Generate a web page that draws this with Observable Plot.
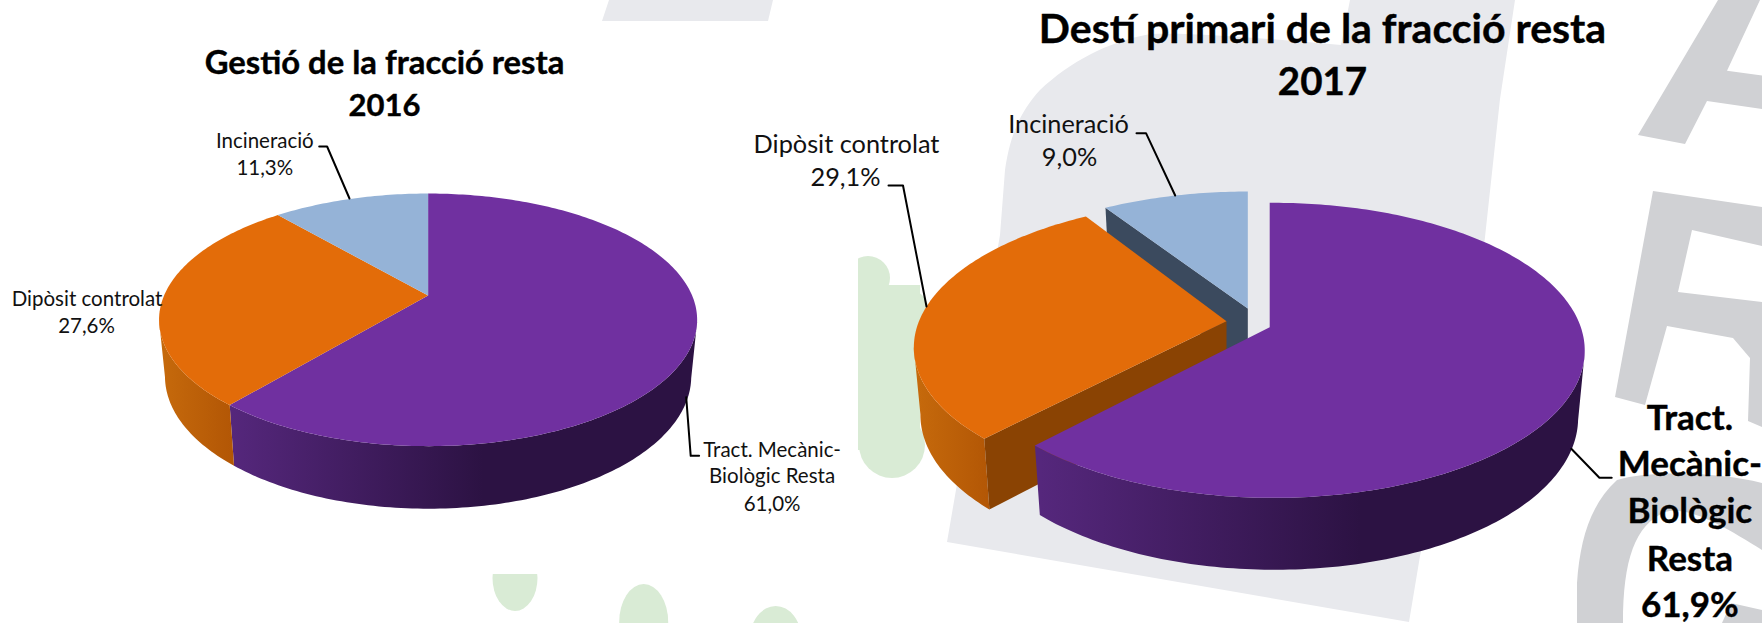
<!DOCTYPE html>
<html>
<head>
<meta charset="utf-8">
<script src="https://cdn.jsdelivr.net/npm/d3@7"></script>
<script src="https://cdn.jsdelivr.net/npm/@observablehq/plot@0.6"></script>
<style>
html,body{margin:0;padding:0;background:#fff;width:1762px;height:623px;overflow:hidden}
svg{display:block}
</style>
</head>
<body>
<script>
// ---------- data ----------
const categories = ["Tract. Mecànic-Biològic Resta", "Dipòsit controlat", "Incineració"];
const values2016 = [61.0, 27.6, 11.3];
const values2017 = [61.9, 29.1, 9.0];
const sliceColors = ["#7030a0", "#e36c09", "#95b3d7"];
const innerWallColors = [null, "#8a4303", "#3b4a5e"];
const titles2016 = ["Gestió de la fracció resta", "2016"];
const titles2017 = ["Destí primari de la fracció resta", "2017"];

// ---------- perspective of each pie (Excel 3-D look) ----------
const pie2016 = [0, 1, 2].map(() => ({cx: 427.6, cy: 295, S: 264, B: 121.6, k: 0.1927, f: 0.978, a: 55.4, fy: 0.96}));
const pie2017 = [
  {cx: 1269.2, cy: 326.7, S: 308, B: 143.9, k: 0.1566, m: 0.01, f: 0.979, a: 66, fy: 0.963},
  {cx: 1226, cy: 320.7, S: 307.5, D: -5.7, B: 141.1, k: 0.163, f: 0.979, a: 66.1, fy: 0.963},
  {cx: 1247.3, cy: 308, S: 297.4, B: 133.6, k: 0.142, f: 0.979, a: 60, fy: 0.963}
];
// shaded side walls: horizontal gradients
const gradients = [
  {id: "p16", x1: 230, x2: 482, from: "#55277c", to: "#2c1243"},
  {id: "o16", x1: 159, x2: 234, from: "#c66a0c", to: "#b25605"},
  {id: "p17", x1: 1040, x2: 1360, from: "#55277c", to: "#2c1243"},
  {id: "o17", x1: 914, x2: 991, from: "#c66a0c", to: "#b25605"}
];

function at(m, X, Z, level) {
  const d = 1 - m.k * Z - (m.m || 0) * X;
  const f = level ? m.f : 1, fy = level ? m.fy : 1, off = level ? m.a : 0;
  return {x: m.cx + f * (m.S * X + (m.D || 0) * Z) / d, y: m.cy + (off + fy * m.B * Z) / d};
}
function pt(m, a, level) {
  return at(m, Math.sin(a), -Math.cos(a), level);
}

const layers = [];
let uid = 0;
function poly(points, fill) {
  const id = uid++;
  for (const p of points) layers.push({id, x: p.x, y: p.y, fill});
}
function arcAngles(a0, a1) {
  const n = Math.max(2, Math.ceil((a1 - a0) / (Math.PI / 180)));
  return d3.range(n + 1).map(i => a0 + (a1 - a0) * i / n);
}
function sides(arc, m, gradientId) {
  // only the front-facing part of the rim, between the two silhouette points
  const as = arcAngles(arc.startAngle, arc.endAngle).filter(a => -Math.cos(a) > m.k);
  poly([...as.map(a => pt(m, a, 0)), ...as.slice().reverse().map(a => pt(m, a, 1))], `url(#${gradientId})`);
}
function topFace(arc, m, i) {
  poly([at(m, 0, 0, 0), ...arcAngles(arc.startAngle, arc.endAngle).map(a => pt(m, a, 0))], sliceColors[i]);
}
function innerWall(arc, m, i, angle) {
  poly([at(m, 0, 0, 0), pt(m, angle, 0), pt(m, angle, 1), at(m, 0, 0, 1)], innerWallColors[i]);
}

const pieGen = d3.pie().sort(null).value(d => d);
const arcs2016 = pieGen(values2016);
const arcs2017 = pieGen(values2017);

// 2016: joined pie
sides(arcs2016[0], pie2016[0], "p16");
sides(arcs2016[1], pie2016[1], "o16");
arcs2016.forEach((a, i) => topFace(a, pie2016[i], i));
// 2017: exploded pie, far slice first
innerWall(arcs2017[2], pie2017[2], 2, arcs2017[2].startAngle);
topFace(arcs2017[2], pie2017[2], 2);
sides(arcs2017[1], pie2017[1], "o17");
innerWall(arcs2017[1], pie2017[1], 1, arcs2017[1].startAngle);
topFace(arcs2017[1], pie2017[1], 1);
sides(arcs2017[0], pie2017[0], "p17");
topFace(arcs2017[0], pie2017[0], 0);

// ---------- labels ----------
const pct = v => v.toFixed(1).replace(".", ",") + "%";
const SMALL = 20.5, MID = 25.3, BIG = 35;
const line = (text, x, base, size) => ({text, x, y: base - 0.32 * size, size});
const labelsPlain = [
  line(categories[2], 264.3, 147, SMALL),
  line(pct(values2016[2]), 264.3, 174, SMALL),
  line(categories[1], 86.5, 305, SMALL),
  line(pct(values2016[1]), 86, 332, SMALL),
  line("Tract. Mecànic-", 771.6, 456, SMALL),
  line("Biològic Resta", 771.6, 482.7, SMALL),
  line(pct(values2016[0]), 771.6, 510, SMALL),
  line(categories[1], 846, 152.7, MID),
  line(pct(values2017[1]), 845, 185, MID),
  line(categories[2], 1068, 132.7, MID),
  line(pct(values2017[2]), 1069, 165.7, MID)
];
const labelsBold = [
  line(titles2016[0], 384, 73, 32.8),
  line(titles2016[1], 384, 115, 31),
  line(titles2017[0], 1322, 42, 41),
  line(titles2017[1], 1322, 94, 38.5),
  line("Tract.", 1689.4, 429, BIG),
  line("Mecànic-", 1689.4, 475, BIG),
  line("Biològic", 1689.4, 522.7, BIG),
  line("Resta", 1689.4, 570, BIG),
  line(pct(values2017[0]), 1689.4, 616.7, BIG)
];
const leaders = [
  [[318.7,146],[326.6,146],[349,198]],
  [[698.6,455.3],[690.2,455.3],[685.7,396.7]],
  [[888,185],[902.5,185],[926,306]],
  [[1136,132.7],[1145.5,132.7],[1174.7,195]],
  [[1570.8,448.3],[1598.9,477.3],[1611.2,477.3]]
].flatMap((seg, id) => seg.map(([x, y]) => ({id, x, y})));

// ---------- page watermark behind the chart (not data) ----------
const bg = `<svg xmlns='http://www.w3.org/2000/svg' width='1762' height='623'>
<rect width='1762' height='623' fill='#fff'/>
<path fill='#e8e9ed' d='M1350,0 L1341,45 C1280,40 1200,32 1150,34 C1107,42 1070,62 1040,90 C1020,112 1010,135 1005,170 L1000,235 L947,542 L1409,622 L1420,556 L1476,320 L1500,99 L1515,0 Z'/>
<path fill='#e8e9ed' d='M609,0 L602,21 L768,21 L773,0 Z'/>
<path fill='#d0d1d4' d='M1718,0 L1638,135 L1685,144 L1707,101 L1762,109 L1762,75.5 L1727,70.7 L1760,0 Z'/>
<path fill='#d0d1d4' fill-rule='evenodd' d='M1653,191 L1762,207 L1762,427 L1748,421 L1750,358 L1733,338 L1667,326 L1645,405 L1615,397 Z M1692,230 L1762,246 L1762,302 L1678,292 Z'/>
<path fill='#d0d1d4' d='M1577,623 L1577,583 C1580,540 1590,505 1617,480 C1650,470 1720,472 1762,483 L1762,550 C1730,530 1690,505 1665,512 C1635,525 1623,560 1623,623 Z'/>
<path fill='#d0d1d4' d='M1731,603 L1762,610 L1762,623 L1722,623 Z'/>
<g fill='#d9ebd5'>
<circle cx='868' cy='278' r='22'/><circle cx='905' cy='312' r='24'/><circle cx='892' cy='445' r='33'/>
<rect x='858' y='285' width='62' height='165'/>
<ellipse cx='515' cy='578' rx='22.5' ry='33'/><ellipse cx='643.7' cy='622' rx='24.5' ry='38'/><ellipse cx='775.7' cy='640' rx='26' ry='34'/>
</g>
<rect x='0' y='21' width='858' height='553' fill='#fff'/>
</svg>`;
document.body.style.background = `url("data:image/svg+xml,${encodeURIComponent(bg)}") no-repeat 0 0`;

// ---------- chart ----------
const gradientDefs = () => {
  const svgNS = "http://www.w3.org/2000/svg";
  const defs = document.createElementNS(svgNS, "defs");
  for (const g of gradients) {
    const el = document.createElementNS(svgNS, "linearGradient");
    el.setAttribute("id", g.id);
    el.setAttribute("gradientUnits", "userSpaceOnUse");
    el.setAttribute("x1", g.x1); el.setAttribute("x2", g.x2);
    el.setAttribute("y1", 0); el.setAttribute("y2", 0);
    [[0, g.from], [1, g.to]].forEach(([o, c]) => {
      const s = document.createElementNS(svgNS, "stop");
      s.setAttribute("offset", o); s.setAttribute("stop-color", c);
      el.appendChild(s);
    });
    defs.appendChild(el);
  }
  return defs;
};
const font = "Lato, 'Open Sans', sans-serif";
const chart = Plot.plot({
  width: 1762, height: 623, margin: 0,
  style: {background: "transparent", fontFamily: font},
  x: {domain: [0, 1762], range: [0, 1762], axis: null},
  y: {domain: [0, 623], range: [0, 623], axis: null},
  color: {type: "identity"},
  marks: [
    gradientDefs,
    Plot.line(layers, {x: "x", y: "y", z: "id", fill: "fill", curve: "linear-closed", stroke: null}),
    Plot.line(leaders, {x: "x", y: "y", z: "id", stroke: "#000", strokeWidth: 2, strokeLinejoin: "round"}),
    Plot.text(labelsPlain, {x: "x", y: "y", text: "text", fontSize: "size", fill: "#111", textAnchor: "middle", lineAnchor: "middle"}),
    Plot.text(labelsBold, {x: "x", y: "y", text: "text", fontSize: "size", fill: "#000", stroke: "#000", strokeWidth: 0.4, fontWeight: 700, textAnchor: "middle", lineAnchor: "middle"})
  ]
});
document.body.appendChild(chart);
</script>
</body>
</html>
